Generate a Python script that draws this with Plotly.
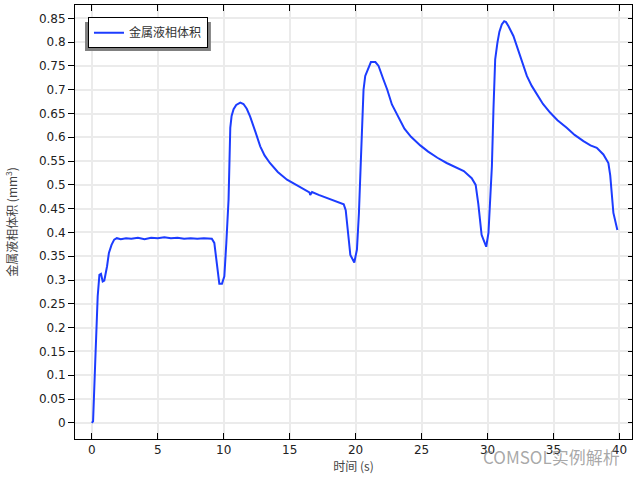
import plotly.graph_objects as go

time_s = [0, 0.1, 0.27, 0.45, 0.58, 0.7, 0.83, 0.95, 1.16, 1.3, 1.5, 1.7, 1.9, 2.2, 2.6, 3.0, 3.5, 4.0,
          4.5, 5.0, 5.5, 6.0, 6.5, 7.0, 7.5, 8.0, 8.5, 8.9, 9.1, 9.29, 9.49, 9.67, 9.87, 10.05, 10.2,
          10.37, 10.5, 10.6, 10.75, 10.95, 11.26, 11.5, 11.75, 12.0, 12.4, 12.77, 13.1, 13.5, 14.1,
          14.8, 15.5, 16.3, 16.5, 16.56, 16.7, 17.2, 17.8, 18.5, 19.1, 19.25, 19.34, 19.5, 19.6, 19.9,
          20.1, 20.25, 20.4, 20.6, 20.73, 20.98, 21.16, 21.5, 21.74, 22.1, 22.4, 22.75, 23.1, 23.5,
          23.7, 24.2, 24.9, 25.5, 26.2, 26.9, 27.5, 28.2, 28.8, 29.1, 29.3, 29.44, 29.55, 29.69, 29.9,
          30.07, 30.2, 30.33, 30.45, 30.58, 30.75, 30.9, 31.08, 31.26, 31.4, 31.58, 31.96, 32.4, 32.98,
          33.35, 33.73, 34.2, 34.74, 35.3, 36.0, 36.6, 37.27, 37.8, 38.28, 38.78, 39.16, 39.3, 39.54,
          39.7, 39.84]
volume = [0, 0.003, 0.133, 0.266, 0.311, 0.313, 0.297, 0.299, 0.329, 0.357, 0.374, 0.385, 0.388, 0.386,
          0.388, 0.387, 0.389, 0.386, 0.389, 0.388, 0.390, 0.388, 0.389, 0.387, 0.388, 0.387, 0.388,
          0.388, 0.387, 0.378, 0.329, 0.292, 0.292, 0.308, 0.378, 0.469, 0.62, 0.645, 0.659, 0.668,
          0.673, 0.670, 0.660, 0.644, 0.612, 0.581, 0.562, 0.546, 0.527, 0.511, 0.500, 0.487, 0.484,
          0.479, 0.485, 0.479, 0.473, 0.466, 0.459, 0.447, 0.427, 0.38, 0.353, 0.337, 0.364, 0.44,
          0.553, 0.70, 0.729, 0.746, 0.758, 0.758, 0.750, 0.722, 0.700, 0.669, 0.650, 0.631, 0.618,
          0.601, 0.583, 0.570, 0.557, 0.546, 0.538, 0.529, 0.514, 0.500, 0.46, 0.413, 0.395, 0.385,
          0.370, 0.399, 0.46, 0.539, 0.66, 0.764, 0.799, 0.822, 0.837, 0.844, 0.842, 0.834, 0.813,
          0.775, 0.729, 0.708, 0.690, 0.670, 0.652, 0.636, 0.620, 0.605, 0.592, 0.583, 0.578, 0.564,
          0.546, 0.52, 0.441, 0.420, 0.405]

x_ticks = [0, 5, 10, 15, 20, 25, 30, 35, 40]
y_ticks = [0, 0.05, 0.1, 0.15, 0.2, 0.25, 0.3, 0.35, 0.4, 0.45, 0.5, 0.55, 0.6, 0.65, 0.7, 0.75, 0.8, 0.85]
y_labels = ["0" if v == 0 else f"{v:g}" for v in y_ticks]

series_name = "金属液相体积"
x_title = "时间 (s)"
y_title = "金属液相体积 (mm<sup>3</sup>)"
watermark = "COMSOL实例解析"

XR = [-1.27, 40.95]
YR = [-0.034, 0.878]

fig = go.Figure()
fig.add_trace(go.Scatter(x=time_s, y=volume, mode="lines", name=series_name,
                         line=dict(color="#1c3cff", width=2)))
fig.add_trace(go.Scatter(x=[None], y=[None], xaxis="x2", yaxis="y2", showlegend=False,
                         hoverinfo="skip"))

tickfont = dict(family="DejaVu Sans", size=12, color="#222222")
grid = "#ebebeb"

fig.update_layout(
    width=640, height=480,
    margin=dict(l=75, r=8, t=5, b=41),
    paper_bgcolor="white", plot_bgcolor="white",
    font=dict(family="Noto Sans CJK SC, DejaVu Sans", size=12, color="#333333"),
    xaxis=dict(range=XR, tickvals=x_ticks, ticks="inside", ticklen=6, tickcolor="black",
               showline=True, linecolor="black", linewidth=1, showgrid=True, gridcolor=grid,
               gridwidth=2, zeroline=False, tickfont=tickfont, automargin=False,
               title=dict(text=x_title, font=dict(family="Noto Sans CJK SC", size=12, color="#444444"),
                          standoff=3)),
    yaxis=dict(range=YR, tickvals=y_ticks, ticktext=y_labels, ticks="outside", ticklen=6,
               tickcolor="black", showline=True, linecolor="black", linewidth=1, showgrid=True,
               gridcolor=grid, gridwidth=2, zeroline=False, tickfont=tickfont, automargin=False,
               title=dict(text=y_title, font=dict(family="Noto Sans CJK SC", size=12, color="#444444"),
                          standoff=18)),
    xaxis2=dict(range=XR, tickvals=x_ticks, ticks="inside", ticklen=6, tickcolor="black",
                overlaying="x", side="top", anchor="y", showticklabels=False, showline=True,
                linecolor="black", linewidth=1, showgrid=False, zeroline=False, automargin=False),
    yaxis2=dict(range=YR, tickvals=y_ticks, ticks="inside", ticklen=4, tickcolor="black",
                overlaying="y", side="right", anchor="x", showticklabels=False, showline=True,
                linecolor="black", linewidth=1, showgrid=False, zeroline=False, automargin=False),
    showlegend=True,
    legend=dict(x=0.0233, y=0.972, xanchor="left", yanchor="top", bgcolor="white",
                bordercolor="black", borderwidth=1,
                font=dict(family="Noto Sans CJK SC", size=12, color="#333333")),
    shapes=[dict(type="rect", xref="paper", yref="paper", x0=0.018, x1=0.244, y0=0.894, y1=0.961,
                 fillcolor="#808080", line=dict(width=0), layer="above")],
    annotations=[dict(text=watermark, xref="paper", yref="paper", x=0.982, y=-0.04,
                      xanchor="right", yanchor="middle", showarrow=False,
                      font=dict(family="Noto Sans CJK SC", size=17, color="rgba(130,130,130,0.7)"))],
)

fig.write_html("out.html", config={"displayModeBar": False},
               post_script="document.body.style.margin='0';document.body.style.overflow='hidden';")
